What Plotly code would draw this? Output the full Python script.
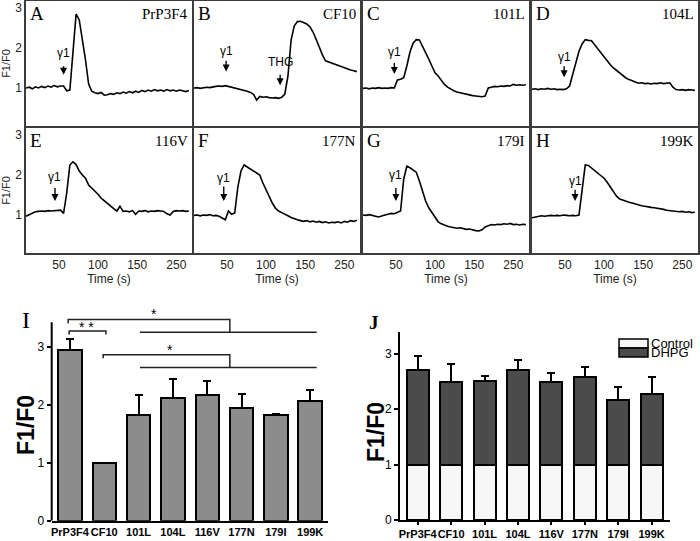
import plotly.graph_objects as go

# =================================================================
#                 1. DATA
# =================================================================
# time grid of the calcium traces (axis units, see TIME_TICKS below)
TIME = [8, 12, 16, 20, 24, 28, 32, 36, 40, 44,
        48, 52, 56, 60, 64, 68, 72, 76, 80, 84,
        88, 92, 96, 100, 104, 108, 112, 116, 120, 124,
        128, 132, 136, 140, 144, 148, 152, 156, 160, 164,
        168, 172, 176, 180, 184, 188, 192, 196, 200, 204,
        208, 212, 216]

TRACE_A = [1.00, 1.02, 0.98, 1.03, 1.00, 1.04, 1.01, 1.05, 1.02, 1.06,
           1.03, 1.05, 1.05, 0.93, 0.95, 1.90, 2.85, 2.70, 2.25, 1.70,
           1.10, 0.92, 0.88, 0.86, 0.89, 0.82, 0.83, 0.86, 0.84, 0.88,
           0.86, 0.90, 0.87, 0.91, 0.88, 0.92, 0.89, 0.94, 0.91, 0.95,
           0.92, 0.96, 0.93, 0.95, 0.92, 0.96, 0.93, 0.95, 0.92, 0.95,
           0.93, 0.91, 0.94]
TRACE_B = [1.00, 1.01, 0.99, 1.01, 1.02, 1.01, 1.03, 1.04, 1.05, 1.04,
           1.06, 1.04, 1.03, 1.01, 0.99, 0.97, 0.95, 0.92, 0.89, 0.84,
           0.70, 0.79, 0.77, 0.78, 0.76, 0.75, 0.76, 0.74, 0.77, 0.85,
           1.30, 2.20, 2.55, 2.66, 2.67, 2.63, 2.60, 2.53, 2.40, 2.22,
           2.02, 1.83, 1.68, 1.65, 1.63, 1.60, 1.55, 1.52, 1.50, 1.47,
           1.45, 1.43, 1.41]
TRACE_C = [0.99, 1.00, 0.98, 1.00, 0.99, 1.01, 0.99, 1.00, 0.99, 1.01,
           1.00, 1.20, 1.22, 1.26, 1.55, 1.90, 2.12, 2.21, 2.20, 2.05,
           1.88, 1.72, 1.55, 1.38, 1.30, 1.18, 1.09, 1.02, 0.97, 0.93,
           0.90, 0.88, 0.86, 0.84, 0.83, 0.81, 0.80, 0.79, 0.78, 0.80,
           1.00, 1.02, 1.04, 1.03, 1.05, 1.04, 1.06, 1.05, 1.09, 1.07,
           1.08, 1.07, 1.08]
TRACE_D = [0.97, 0.98, 0.96, 0.98, 0.97, 0.99, 0.97, 0.98, 0.96, 0.97,
           0.96, 0.98, 1.05, 1.35, 1.65, 1.92, 2.10, 2.21, 2.19, 2.18,
           2.08, 1.98, 1.85, 1.75, 1.66, 1.58, 1.50, 1.44, 1.37, 1.30,
           1.25, 1.21, 1.17, 1.15, 1.12, 1.13, 1.11, 1.12, 1.10, 1.12,
           1.11, 1.13, 1.11, 1.12, 1.13, 1.02, 0.96, 0.95, 0.96, 0.94,
           0.96, 0.95, 0.94]
TRACE_E = [0.97, 1.01, 1.05, 1.08, 1.09, 1.10, 1.09, 1.11, 1.10, 1.11,
           1.11, 1.12, 1.04, 1.55, 2.25, 2.33, 2.26, 2.10, 2.00, 1.92,
           1.75, 1.68, 1.60, 1.52, 1.42, 1.35, 1.28, 1.21, 1.16, 1.10,
           1.22, 1.09, 1.10, 1.08, 1.11, 1.02, 1.10, 1.09, 1.11, 1.08,
           1.10, 1.09, 1.11, 1.10, 1.09, 1.03, 1.00, 1.09, 1.11, 1.10,
           1.11, 1.09, 1.10]
TRACE_F = [0.99, 1.00, 0.98, 1.00, 0.99, 1.01, 0.98, 0.99, 0.97, 0.92,
           0.88, 1.10, 1.02, 1.05, 1.70, 2.10, 2.25, 2.20, 2.15, 2.12,
           2.05, 2.00, 1.80, 1.62, 1.48, 1.30, 1.17, 1.10, 1.06, 1.03,
           0.98, 0.94, 0.90, 0.88, 0.86, 0.84, 0.86, 0.83, 0.85, 0.82,
           0.84, 0.81, 0.83, 0.80, 0.82, 0.81, 0.83, 0.80, 0.84, 0.82,
           0.86, 0.84, 0.87]
TRACE_G = [1.00, 0.99, 1.01, 0.98, 0.97, 0.95, 0.98, 1.00, 1.02, 1.04,
           1.03, 1.06, 1.10, 1.90, 2.22, 2.18, 2.12, 2.07, 1.85, 1.62,
           1.35, 1.18, 1.06, 0.92, 0.83, 0.78, 0.74, 0.72, 0.70, 0.69,
           0.67, 0.68, 0.66, 0.64, 0.65, 0.62, 0.61, 0.60, 0.63, 0.70,
           0.74, 0.76, 0.75, 0.77, 0.76, 0.78, 0.77, 0.79, 0.76, 0.77,
           0.75, 0.77, 0.76]
TRACE_H = [0.93, 0.95, 0.96, 0.98, 0.97, 0.98, 0.99, 0.98, 0.99, 0.98,
           1.00, 0.99, 0.98, 0.99, 0.98, 1.00, 1.70, 2.25, 2.24, 2.18,
           2.12, 2.06, 2.00, 1.92, 1.82, 1.70, 1.58, 1.47, 1.40, 1.37,
           1.34, 1.32, 1.30, 1.27, 1.25, 1.23, 1.22, 1.20, 1.19, 1.18,
           1.17, 1.16, 1.14, 1.12, 1.11, 1.10, 1.10, 1.08, 1.09, 1.07,
           1.08, 1.06, 1.07]
TRACES = [TRACE_A, TRACE_B, TRACE_C, TRACE_D, TRACE_E, TRACE_F, TRACE_G, TRACE_H]

PANEL_LETTERS = ["A", "B", "C", "D", "E", "F", "G", "H"]
GROUPS = ["PrP3F4", "CF10", "101L", "104L", "116V", "177N", "179I", "199K"]

# gamma1 application marks (time, label height, arrow tail, arrow tip)
GAMMA_TIME = [56, 49, 48, 49, 45, 46, 50, 63]
GAMMA_TEXT_Y = [1.88, 1.93, 1.91, 1.78, 1.96, 1.92, 2.00, 1.85]
GAMMA_TAIL_Y = [1.58, 1.72, 1.66, 1.58, 1.71, 1.75, 1.71, 1.67]
GAMMA_TIP_Y = [1.33, 1.41, 1.35, 1.27, 1.35, 1.35, 1.35, 1.35]
THG_TIME, THG_TEXT_Y, THG_TAIL_Y, THG_TIP_Y = 118, 1.65, 1.37, 1.07

TIME_TICKS = [50, 100, 150, 200]
TIME_TICK_TEXT = ["50", "100", "150", "250"]

# panel I: peak F1/F0 (mean, sem)
I_MEAN = [2.94, 1.00, 1.83, 2.11, 2.16, 1.94, 1.82, 2.07]
I_SEM = [0.20, 0.00, 0.33, 0.34, 0.25, 0.24, 0.02, 0.18]

# panel J: control vs DHPG
J_CONTROL = [1.00, 1.00, 1.00, 1.00, 0.99, 1.00, 1.00, 1.00]
J_DHPG = [2.70, 2.49, 2.51, 2.70, 2.49, 2.58, 2.17, 2.27]
J_SEM = [0.25, 0.32, 0.08, 0.18, 0.16, 0.18, 0.23, 0.31]

# =================================================================
#                         2. FIGURE
# =================================================================
W, H = 700, 541
SANS = "Liberation Sans, Arial, sans-serif"
SERIF = "Liberation Serif, Times New Roman, serif"
FRAME = "#3c3c3c"


def dom_x(left, right):
    return [left / W, right / W]


def dom_y(top, bottom):
    return [1 - bottom / H, 1 - top / H]


COL_PX = [(26, 192), (194, 360), (363, 529), (532, 698)]
ROW_PX = [(1, 126), (128, 253)]

fig = go.Figure()
layout = {}
annotations = []
shapes = []

for k, trace in enumerate(TRACES):
    n = k + 1
    row, col = divmod(k, 4)
    xa = "x" if n == 1 else f"x{n}"
    ya = "y" if n == 1 else f"y{n}"

    fig.add_trace(go.Scatter(x=TIME, y=trace, mode="lines",
                             line=dict(color="black", width=1.6),
                             xaxis=xa, yaxis=ya, showlegend=False,
                             hoverinfo="skip"))

    layout[f"xaxis{n}"] = dict(
        domain=dom_x(*COL_PX[col]), range=[8, 220], anchor=ya, automargin=False,
        showline=True, mirror=True, linecolor=FRAME, linewidth=1.5,
        showgrid=False, zeroline=False, ticks="",
        tickvals=TIME_TICKS, ticktext=TIME_TICK_TEXT,
        showticklabels=(row == 1),
        tickfont=dict(family=SANS, size=12, color="#222"),
        title=dict(text="Time (s)" if row == 1 else "",
                   font=dict(family=SANS, size=12, color="#222"), standoff=2),
    )
    layout[f"yaxis{n}"] = dict(
        domain=dom_y(*ROW_PX[row]), range=[0.05, 3.175], anchor=xa, automargin=False,
        showline=True, mirror=True, linecolor=FRAME, linewidth=1.5,
        showgrid=False, zeroline=False, ticks="",
        tickvals=[1, 2, 3], showticklabels=(col == 0),
        tickfont=dict(family=SANS, size=12, color="#222"),
        title=dict(text="F1/F0" if col == 0 else "",
                   font=dict(family=SANS, size=11, color="#222"), standoff=4),
    )

    annotations.append(dict(text=PANEL_LETTERS[k], xref=f"{xa} domain", yref=f"{ya} domain",
                            x=0.015, y=1.0, xanchor="left", yanchor="top", showarrow=False,
                            font=dict(family=SERIF, size=19, color="black")))
    annotations.append(dict(text=GROUPS[k], xref=f"{xa} domain", yref=f"{ya} domain",
                            x=0.985, y=0.98, xanchor="right", yanchor="top", showarrow=False,
                            font=dict(family=SERIF, size=15, color="black")))
    annotations.append(dict(text="γ1", xref=xa, yref=ya, x=GAMMA_TIME[k], y=GAMMA_TEXT_Y[k],
                            showarrow=False, font=dict(family=SANS, size=12, color="black")))
    annotations.append(dict(text="", xref=xa, yref=ya, x=GAMMA_TIME[k], y=GAMMA_TIP_Y[k],
                            axref=xa, ayref=ya, ax=GAMMA_TIME[k], ay=GAMMA_TAIL_Y[k],
                            showarrow=True, arrowhead=2, arrowsize=1, arrowwidth=1.4,
                            arrowcolor="black"))
    if k == 1:
        annotations.append(dict(text="THG", xref=xa, yref=ya, x=THG_TIME, y=THG_TEXT_Y,
                                showarrow=False, font=dict(family=SANS, size=12, color="black")))
        annotations.append(dict(text="", xref=xa, yref=ya, x=THG_TIME, y=THG_TIP_Y,
                                axref=xa, ayref=ya, ax=THG_TIME, ay=THG_TAIL_Y,
                                showarrow=True, arrowhead=2, arrowsize=1, arrowwidth=1.4,
                                arrowcolor="black"))

POS = list(range(len(GROUPS)))
BAR_TICK_FONT = dict(family=SANS, size=11, color="black", weight="bold")
BAR_TITLE_FONT = dict(family=SANS, size=23, color="black", weight="bold")

# ---------------- panel I ----------------
fig.add_trace(go.Bar(x=POS, y=I_MEAN, width=0.68, xaxis="x9", yaxis="y9",
                     marker=dict(color="#8c8c8c", line=dict(color="black", width=2)),
                     error_y=dict(type="data", array=I_SEM, arrayminus=[0] * len(I_SEM),
                                  symmetric=False, color="black", thickness=2, width=4),
                     showlegend=False, hoverinfo="skip"))

layout["xaxis9"] = dict(domain=dom_x(51.7, 328), range=[-0.53, 7.52], anchor="y9",
                        automargin=False, tickangle=0,
                        showline=True, linecolor="black", linewidth=2, showgrid=False,
                        zeroline=False, ticks="", tickvals=POS, ticktext=GROUPS,
                        tickfont=BAR_TICK_FONT)
layout["yaxis9"] = dict(domain=dom_y(306.1, 520.7), range=[0, 3.7], anchor="x9",
                        automargin=False,
                        showline=False, showgrid=False, zeroline=False,
                        ticks="outside", ticklen=4, tickwidth=2, tickcolor="black",
                        tickvals=[0, 1, 2, 3],
                        tickfont=dict(family=SANS, size=12, color="black"))
shapes.append(dict(type="line", xref="x9 domain", yref="y9", x0=0, x1=0, y0=0, y1=3.42,
                   line=dict(color="black", width=2)))

# significance brackets
BRACKETS = [
    ([-0.05, -0.05, 4.66, 4.66], [3.40, 3.47, 3.47, 3.25]),
    ([2.04, 7.19], [3.25, 3.25]),
    ([-0.02, -0.02, 1.05, 1.05], [3.21, 3.27, 3.27, 3.21]),
    ([0.97, 0.97, 4.66, 4.66], [2.80, 2.86, 2.86, 2.64]),
    ([2.04, 7.19], [2.64, 2.64]),
]
for bx, by in BRACKETS:
    fig.add_trace(go.Scatter(x=bx, y=by, mode="lines", xaxis="x9", yaxis="y9",
                             line=dict(color="#222", width=1.5), showlegend=False,
                             hoverinfo="skip"))
for sx, sy, st in [(2.45, 3.56, "*"), (0.49, 3.34, "* *"), (2.92, 2.95, "*")]:
    annotations.append(dict(text=st, xref="x9", yref="y9", x=sx, y=sy, showarrow=False,
                            font=dict(family=SANS, size=14, color="black")))

# ---------------- panel J ----------------
fig.add_trace(go.Bar(x=POS, y=J_CONTROL, width=0.66, xaxis="x10", yaxis="y10",
                     marker=dict(color="#f7f7f7", line=dict(color="black", width=2)),
                     showlegend=False, hoverinfo="skip"))
fig.add_trace(go.Bar(x=POS, y=[d - c for d, c in zip(J_DHPG, J_CONTROL)], width=0.66,
                     xaxis="x10", yaxis="y10",
                     marker=dict(color="#4b4b4b", line=dict(color="black", width=2)),
                     error_y=dict(type="data", array=J_SEM, arrayminus=[0] * len(J_SEM),
                                  symmetric=False, color="black", thickness=2, width=4),
                     showlegend=False, hoverinfo="skip"))

layout["xaxis10"] = dict(domain=dom_x(400, 670), range=[-0.53, 7.55], anchor="y10",
                         automargin=False, tickangle=0,
                         showline=True, linecolor="black", linewidth=2, showgrid=False,
                         zeroline=False, ticks="outside", ticklen=3, tickwidth=1.5,
                         tickcolor="black", tickvals=POS, ticktext=GROUPS,
                         tickfont=BAR_TICK_FONT)
layout["yaxis10"] = dict(domain=dom_y(331.9, 520), range=[0, 3.39], anchor="x10",
                         automargin=False,
                         showline=True, linecolor="black", linewidth=2, showgrid=False,
                         zeroline=False, ticks="outside", ticklen=4, tickwidth=2,
                         tickcolor="black", tickvals=[0, 1, 2, 3],
                         tickfont=dict(family=SANS, size=12, color="black"))

# big y titles of I and J placed by hand
for tx, ty in [(26, 425), (376, 432)]:
    annotations.append(dict(text="F1/F0", xref="paper", yref="paper", x=tx / W, y=1 - ty / H,
                            xanchor="center", yanchor="middle",
                            textangle=-90, showarrow=False, font=BAR_TITLE_FONT))

# hand-made legend for J
for top, fill, label in [(339, "#f7f7f7", "Control"), (348, "#4b4b4b", "DHPG")]:
    shapes.append(dict(type="rect", xref="paper", yref="paper",
                       x0=619 / W, x1=648 / W, y0=1 - (top + 9) / H, y1=1 - top / H,
                       fillcolor=fill, line=dict(color="black", width=1.5)))
    annotations.append(dict(text=label, xref="paper", yref="paper", x=649 / W,
                            y=1 - (top + 4.5) / H, xanchor="left", yanchor="middle",
                            showarrow=False, font=dict(family=SANS, size=13, color="black")))

annotations.append(dict(text="I", xref="paper", yref="paper", x=26 / W, y=1 - 320 / H,
                        xanchor="center", yanchor="middle",
                        showarrow=False, font=dict(family=SERIF, size=24, color="black")))
annotations.append(dict(text="<b>J</b>", xref="paper", yref="paper", x=374 / W, y=1 - 322 / H,
                        xanchor="center", yanchor="middle",
                        showarrow=False, font=dict(family=SERIF, size=19, color="black")))

fig.update_layout(
    width=W, height=H,
    margin=dict(l=0, r=0, t=0, b=0),
    paper_bgcolor="white", plot_bgcolor="white",
    barmode="stack", showlegend=False, hovermode=False,
    annotations=annotations, shapes=shapes,
    **layout,
)

# the page body has a default 8px margin; drop it so the 700x541 figure fits the window
fig.write_html("out.html", config={"displayModeBar": False},
               post_script="document.body.style.margin='0';")
